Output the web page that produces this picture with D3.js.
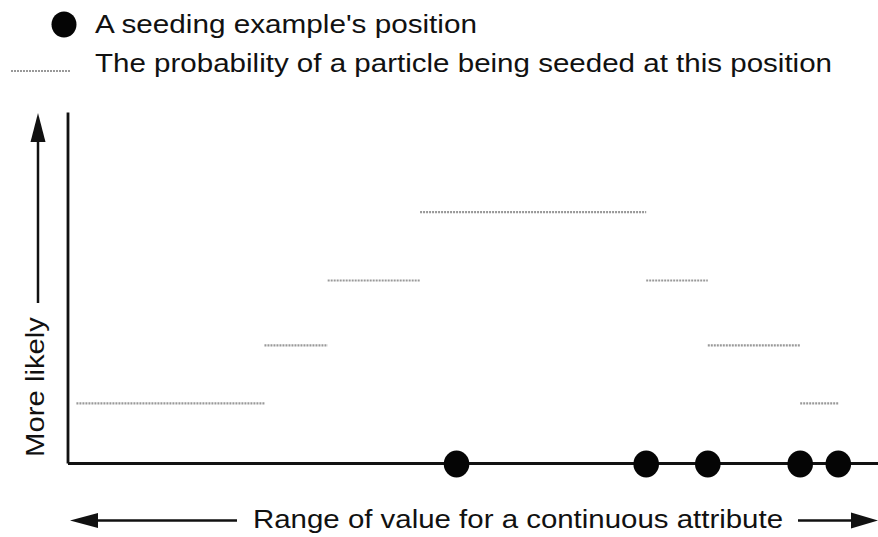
<!DOCTYPE html>
<html>
<head>
<meta charset="utf-8">
<script src="https://cdn.jsdelivr.net/npm/d3@7"></script>
<style>
  html, body { margin: 0; padding: 0; background: #fff; }
  svg { display: block; }
  text { font-family: "Liberation Sans", Arial, Helvetica, sans-serif; fill: #111; }
</style>
</head>
<body>
<svg id="chart" width="878" height="537"></svg>
<script>
// Positions of the seeding examples along the attribute range (0-100)
const examplePositions = [48.0, 71.4, 79.0, 90.4, 95.1];

// Piecewise-constant seeding probability: each step spans [start, end]
const stepStart = [1.1, 24.3, 32.1, 43.5, 71.4, 79.0, 90.4];
const stepEnd   = [24.3, 32.1, 43.5, 71.4, 79.0, 90.4, 95.1];
const stepProb  = [0.17, 0.335, 0.52, 0.715, 0.52, 0.335, 0.17];

// Text
const legendLabels = ["A seeding example's position",
                      "The probability of a particle being seeded at this position"];
const yLabel = "More likely";
const xLabel = "Range of value for a continuous attribute";

const svg = d3.select("#chart");
const plot = { left: 67.5, right: 878, top: 112, bottom: 463 };
const fontSize = 26.5;

const x = d3.scaleLinear().domain([0, 100]).range([plot.left, plot.right]);
const y = d3.scaleLinear().domain([0, 1]).range([plot.bottom, plot.top]);

const steps = stepStart.map((s, i) => ({ start: s, end: stepEnd[i], p: stepProb[i] }));

// Probability steps
svg.append("g")
  .selectAll("line")
  .data(steps)
  .join("line")
  .attr("x1", d => x(d.start))
  .attr("x2", d => x(d.end))
  .attr("y1", d => y(d.p))
  .attr("y2", d => y(d.p))
  .attr("stroke", "#999")
  .attr("stroke-width", 2.2)
  .attr("stroke-dasharray", "2,1");

// Axes: bare domain lines, no ticks
const xAxis = svg.append("g")
  .attr("transform", `translate(0,${plot.bottom})`)
  .call(d3.axisBottom(x).tickValues([]).tickSizeOuter(0));
const yAxis = svg.append("g")
  .attr("transform", `translate(${plot.left},0)`)
  .call(d3.axisLeft(y).tickValues([]).tickSizeOuter(0));
[xAxis, yAxis].forEach(g => g.select(".domain")
  .attr("stroke", "#111").attr("stroke-width", 2.8));

// Seeding examples on the attribute axis
svg.append("g")
  .selectAll("ellipse")
  .data(examplePositions)
  .join("ellipse")
  .attr("cx", d => x(d))
  .attr("cy", plot.bottom + 1)
  .attr("rx", 12.8)
  .attr("ry", 13.5)
  .attr("fill", "#050505");

// Arrow helpers
function arrowLine(x1, y1, x2, y2) {
  svg.append("line")
    .attr("x1", x1).attr("y1", y1).attr("x2", x2).attr("y2", y2)
    .attr("stroke", "#111").attr("stroke-width", 2.5);
}
function arrowHead(tipX, tipY, dir, len, half) {
  let pts;
  if (dir === "up")    pts = [[tipX, tipY], [tipX - half, tipY + len], [tipX + half, tipY + len]];
  if (dir === "left")  pts = [[tipX, tipY], [tipX + len, tipY - half], [tipX + len, tipY + half]];
  if (dir === "right") pts = [[tipX, tipY], [tipX - len, tipY - half], [tipX - len, tipY + half]];
  svg.append("path").attr("d", d3.line()(pts) + "Z").attr("fill", "#111");
}

// Y label with upward arrow
svg.append("text")
  .attr("transform", "translate(43.5,387) rotate(-90)")
  .attr("text-anchor", "middle")
  .attr("font-size", fontSize)
  .attr("textLength", 140)
  .attr("lengthAdjust", "spacingAndGlyphs")
  .text(yLabel);
arrowLine(38, 303, 38, 135);
arrowHead(38, 113, "up", 29, 7.5);

// X label with arrows on both sides
const xLabelY = 527.5;
svg.append("text")
  .attr("x", 253)
  .attr("y", xLabelY)
  .attr("font-size", fontSize)
  .attr("textLength", 530)
  .attr("lengthAdjust", "spacingAndGlyphs")
  .text(xLabel);
arrowLine(92, 520.5, 237, 520.5);
arrowHead(70, 520.5, "left", 28, 7.5);
arrowLine(798, 520.5, 856, 520.5);
arrowHead(878, 520.5, "right", 27, 8);

// Legend
const legend = svg.append("g");
legend.append("ellipse")
  .attr("cx", 64).attr("cy", 24.5).attr("rx", 12.5).attr("ry", 13)
  .attr("fill", "#050505");
legend.append("line")
  .attr("x1", 11).attr("x2", 70).attr("y1", 71).attr("y2", 71)
  .attr("stroke", "#999").attr("stroke-width", 2.2).attr("stroke-dasharray", "2,1");
const legendWidths = [382, 737];
const legendBaselines = [33, 72];
legend.selectAll("text")
  .data(legendLabels)
  .join("text")
  .attr("x", 95)
  .attr("y", (d, i) => legendBaselines[i])
  .attr("font-size", fontSize)
  .attr("textLength", (d, i) => legendWidths[i])
  .attr("lengthAdjust", "spacingAndGlyphs")
  .text(d => d);
</script>
</body>
</html>
